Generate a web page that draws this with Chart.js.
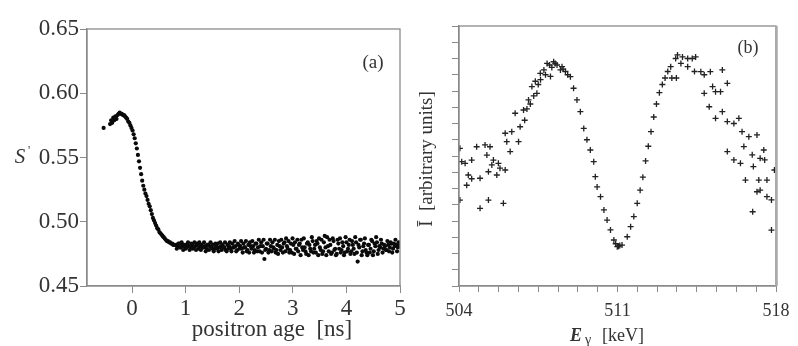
<!DOCTYPE html>
<html>
<head>
<meta charset="utf-8">
<script src="https://cdn.jsdelivr.net/npm/chart.js@4.4.1/dist/chart.umd.min.js"></script>
<style>
  body { margin: 0; background: #fff; }
  #wrap { position: relative; width: 798px; height: 346px; }
  canvas { position: absolute; top: 0; }
  #ageChart { left: 0; }
  #energyChart { left: 410px; }
</style>
</head>
<body>
<div id="wrap">
  <canvas id="ageChart" width="410" height="346"></canvas>
  <canvas id="energyChart" width="388" height="346"></canvas>
</div>
<script>
// (a) S parameter vs positron age
const ageTicks = [0, 1, 2, 3, 4, 5];
const sTicks = [0.45, 0.50, 0.55, 0.60, 0.65];

const curveAge = [-0.53, -0.41, -0.39, -0.37, -0.35, -0.33, -0.31, -0.29, -0.27, -0.25,
  -0.23, -0.21, -0.19, -0.17, -0.15, -0.13, -0.11, -0.09, -0.07, -0.05,
  -0.03, -0.01, 0.01, 0.03, 0.05, 0.07, 0.09, 0.11, 0.13, 0.15,
  0.17, 0.19, 0.21, 0.23, 0.25, 0.27, 0.29, 0.31, 0.33, 0.35,
  0.37, 0.39, 0.41, 0.43, 0.45, 0.47, 0.49, 0.51, 0.53, 0.55,
  0.57, 0.59, 0.61, 0.63, 0.65, 0.67, 0.69, 0.71, 0.73, 0.75,
  0.77, 0.79];
const curveS = [0.573, 0.576, 0.579, 0.577, 0.581, 0.579, 0.582, 0.580, 0.583, 0.584,
  0.585, 0.584, 0.584, 0.583, 0.583, 0.582, 0.581, 0.580, 0.578, 0.577,
  0.575, 0.573, 0.571, 0.568, 0.565, 0.561, 0.557, 0.552, 0.547, 0.542,
  0.537, 0.532, 0.528, 0.525, 0.522, 0.520, 0.517, 0.514, 0.512, 0.509,
  0.506, 0.503, 0.501, 0.499, 0.497, 0.495, 0.494, 0.492, 0.491, 0.490,
  0.489, 0.488, 0.487, 0.486, 0.485, 0.485, 0.484, 0.484, 0.483, 0.483,
  0.482, 0.482];

const plateauAge = [0.82, 0.85, 0.88, 0.91, 0.94, 0.97, 1.00, 1.03, 1.06, 1.09,
  1.12, 1.15, 1.18, 1.21, 1.24, 1.27, 1.30, 1.33, 1.36, 1.39,
  1.42, 1.45, 1.48, 1.51, 1.54, 1.57, 1.60, 1.63, 1.66, 1.69,
  1.72, 1.75, 1.78, 1.81, 1.84, 1.87, 1.90, 1.93, 1.96, 1.99,
  2.02, 2.05, 2.08, 2.11, 2.14, 2.17, 2.20, 2.23, 2.26, 2.29,
  2.32, 2.35, 2.38, 2.41, 2.44, 2.47, 2.50, 2.53, 2.56, 2.59,
  2.62, 2.65, 2.68, 2.71, 2.74, 2.77, 2.80, 2.83, 2.86, 2.89,
  2.92, 2.95, 2.98, 3.01, 3.04, 3.07, 3.10, 3.13, 3.16, 3.19,
  3.22, 3.25, 3.28, 3.31, 3.34, 3.37, 3.40, 3.43, 3.46, 3.49,
  3.52, 3.55, 3.58, 3.61, 3.64, 3.67, 3.70, 3.73, 3.76, 3.79,
  3.82, 3.85, 3.88, 3.91, 3.94, 3.97, 4.00, 4.03, 4.06, 4.09,
  4.12, 4.15, 4.18, 4.21, 4.24, 4.27, 4.30, 4.33, 4.36, 4.39,
  4.42, 4.45, 4.48, 4.51, 4.54, 4.57, 4.60, 4.63, 4.66, 4.69,
  4.72, 4.75, 4.78, 4.81, 4.84, 4.87, 4.90, 4.93, 4.96, 4.99];
const plateauS = [0.482, 0.481, 0.483, 0.480, 0.482, 0.481, 0.479, 0.482, 0.481, 0.480,
  0.482, 0.480, 0.481, 0.483, 0.479, 0.481, 0.482, 0.480, 0.481, 0.479,
  0.482, 0.481, 0.480, 0.482, 0.479, 0.481, 0.483, 0.480, 0.481, 0.482,
  0.480, 0.478, 0.482, 0.481, 0.479, 0.483, 0.480, 0.481, 0.478, 0.482,
  0.481, 0.479, 0.483, 0.480, 0.477, 0.482, 0.484, 0.479, 0.481, 0.478,
  0.483, 0.480, 0.477, 0.484, 0.481, 0.471, 0.479, 0.483, 0.478, 0.481,
  0.484, 0.479, 0.476, 0.482, 0.485, 0.478, 0.480, 0.483, 0.477, 0.481,
  0.485, 0.478, 0.476, 0.482, 0.484, 0.479, 0.477, 0.483, 0.486, 0.478,
  0.480, 0.475, 0.484, 0.482, 0.477, 0.485, 0.479, 0.476, 0.483, 0.487,
  0.478, 0.475, 0.484, 0.480, 0.488, 0.477, 0.482, 0.476, 0.485, 0.479,
  0.475, 0.483, 0.487, 0.478, 0.481, 0.476, 0.484, 0.479, 0.486, 0.477,
  0.482, 0.475, 0.484, 0.469, 0.480, 0.486, 0.477, 0.483, 0.478, 0.474,
  0.482, 0.479, 0.485, 0.477, 0.481, 0.484, 0.478, 0.480, 0.483, 0.479,
  0.481, 0.478, 0.482, 0.480, 0.483, 0.479, 0.481, 0.482, 0.480, 0.483];

// second, interleaved channel set of the plateau
const plateauAge2 = [0.835, 0.865, 0.895, 0.925, 0.955, 0.985, 1.015, 1.045, 1.075, 1.105,
  1.135, 1.165, 1.195, 1.225, 1.255, 1.285, 1.315, 1.345, 1.375, 1.405,
  1.435, 1.465, 1.495, 1.525, 1.555, 1.585, 1.615, 1.645, 1.675, 1.705,
  1.735, 1.765, 1.795, 1.825, 1.855, 1.885, 1.915, 1.945, 1.975, 2.005,
  2.035, 2.065, 2.095, 2.125, 2.155, 2.185, 2.215, 2.245, 2.275, 2.305,
  2.335, 2.365, 2.395, 2.425, 2.455, 2.485, 2.515, 2.545, 2.575, 2.605,
  2.635, 2.665, 2.695, 2.725, 2.755, 2.785, 2.815, 2.845, 2.875, 2.905,
  2.935, 2.965, 2.995, 3.025, 3.055, 3.085, 3.115, 3.145, 3.175, 3.205,
  3.235, 3.265, 3.295, 3.325, 3.355, 3.385, 3.415, 3.445, 3.475, 3.505,
  3.535, 3.565, 3.595, 3.625, 3.655, 3.685, 3.715, 3.745, 3.775, 3.805,
  3.835, 3.865, 3.895, 3.925, 3.955, 3.985, 4.015, 4.045, 4.075, 4.105,
  4.135, 4.165, 4.195, 4.225, 4.255, 4.285, 4.315, 4.345, 4.375, 4.405,
  4.435, 4.465, 4.495, 4.525, 4.555, 4.585, 4.615, 4.645, 4.675, 4.705,
  4.735, 4.765, 4.795, 4.825, 4.855, 4.885, 4.915, 4.945, 4.975, 4.995];
const plateauS2 = [0.479, 0.483, 0.480, 0.484, 0.478, 0.482, 0.480, 0.484, 0.478, 0.483,
  0.479, 0.484, 0.478, 0.482, 0.484, 0.478, 0.480, 0.484, 0.477, 0.482,
  0.478, 0.484, 0.479, 0.477, 0.483, 0.479, 0.477, 0.484, 0.478, 0.480,
  0.484, 0.477, 0.479, 0.484, 0.477, 0.480, 0.485, 0.477, 0.483, 0.479,
  0.485, 0.476, 0.480, 0.485, 0.478, 0.476, 0.481, 0.485, 0.476, 0.483,
  0.477, 0.486, 0.481, 0.476, 0.486, 0.478, 0.483, 0.476, 0.486, 0.477,
  0.480, 0.486, 0.478, 0.475, 0.481, 0.486, 0.476, 0.484, 0.487, 0.479,
  0.476, 0.483, 0.487, 0.475, 0.479, 0.486, 0.482, 0.474, 0.480, 0.487,
  0.477, 0.483, 0.474, 0.479, 0.488, 0.476, 0.482, 0.485, 0.474, 0.480,
  0.486, 0.477, 0.489, 0.474, 0.481, 0.486, 0.475, 0.487, 0.478, 0.474,
  0.486, 0.479, 0.476, 0.484, 0.474, 0.488, 0.477, 0.482, 0.475, 0.485,
  0.479, 0.488, 0.476, 0.482, 0.486, 0.474, 0.481, 0.487, 0.476, 0.482,
  0.476, 0.486, 0.474, 0.483, 0.488, 0.475, 0.481, 0.486, 0.476, 0.482,
  0.478, 0.485, 0.477, 0.484, 0.476, 0.483, 0.486, 0.477, 0.484, 0.481];

// (b) intensity vs gamma energy
const energyLabels = [504, 511, 518];
const energyKeV = [504.04, 504.12, 504.27, 504.56, 504.04, 504.41, 504.56, 504.34, 504.78, 505.15,
  505.37, 505.23, 505.52, 505.45, 505.74, 505.81, 504.93, 505.30, 505.67, 506.04,
  504.93, 505.30, 505.96, 506.26, 506.11, 506.04, 506.33, 506.63, 506.70, 506.48,
  506.85, 506.90, 507.00, 507.07, 507.15, 507.22, 507.30, 507.37, 507.44, 507.50,
  507.59, 507.60, 507.75, 507.82, 507.89, 508.00, 508.04, 508.10, 508.18, 508.25,
  508.33, 508.48, 508.55, 508.60, 508.70, 508.80, 508.92, 509.06, 509.21, 509.36,
  509.51, 509.65, 509.80, 509.95, 510.02, 510.10, 510.25, 510.40, 510.54, 510.69,
  510.84, 510.92, 510.99, 511.05, 511.10, 511.20, 511.43, 511.58, 511.72, 511.87,
  512.00, 512.12, 512.24, 512.36, 512.48, 512.60, 512.72, 512.85, 512.98, 513.10,
  513.22, 513.35, 513.40, 513.57, 513.60, 513.65, 513.80, 513.87, 514.10, 514.10,
  514.30, 514.40, 514.45, 514.68, 514.83, 514.83, 515.05, 515.10, 515.20, 515.33,
  515.33, 515.55, 515.63, 515.63, 515.85, 515.85, 515.85, 516.14, 516.14, 516.36,
  516.43, 516.50, 516.58, 516.65, 516.80, 516.95, 516.97, 517.00, 517.16, 517.16,
  517.24, 517.30, 517.30, 517.46, 517.50, 517.60, 517.60, 517.80, 517.80, 517.93];
const intensity = [8.47, 7.65, 7.55, 7.75, 5.29, 6.83, 6.60, 6.20, 8.57, 8.68,
  8.57, 8.06, 7.75, 7.45, 7.55, 7.25, 6.63, 7.03, 6.83, 7.14,
  4.78, 5.29, 5.09, 8.27, 8.88, 9.40, 9.50, 8.88, 9.80, 10.63,
  10.83, 10.20, 10.90, 11.45, 11.20, 12.27, 11.70, 12.60, 11.86, 12.40,
  13.09, 12.70, 13.30, 13.00, 13.70, 13.60, 12.90, 13.45, 13.80, 13.70,
  13.60, 13.30, 13.50, 13.35, 13.20, 13.00, 12.88, 12.17, 11.45, 10.73,
  9.70, 9.00, 8.37, 7.65, 6.73, 6.10, 5.50, 4.68, 4.06, 3.45,
  2.83, 2.60, 2.42, 2.45, 2.50, 2.52, 3.03, 3.65, 4.27, 5.09,
  5.90, 6.70, 7.70, 8.60, 9.50, 10.40, 11.20, 11.90, 12.40, 12.80,
  13.20, 13.50, 12.80, 14.00, 12.80, 14.22, 13.70, 14.10, 14.00, 13.50,
  14.00, 13.20, 14.10, 13.19, 13.00, 11.86, 11.03, 13.19, 12.27, 11.96,
  10.32, 11.96, 13.30, 10.73, 12.47, 10.12, 8.27, 10.00, 7.76, 10.32,
  7.55, 9.50, 8.58, 6.52, 9.19, 8.07, 4.57, 7.35, 9.30, 5.80,
  6.52, 7.86, 5.90, 8.37, 7.76, 6.52, 5.50, 5.30, 3.44, 7.14];

Chart.defaults.font.family = "'Liberation Serif', 'Times New Roman', serif";
Chart.defaults.color = "#333";

const frameGray = "#8a8a8a";

const leftDecor = {
  id: "leftDecor",
  afterDraw(chart) {
    const ctx = chart.ctx;
    const a = chart.chartArea;
    ctx.save();
    ctx.strokeStyle = frameGray;
    ctx.lineWidth = 1.3;
    ctx.strokeRect(a.left, a.top, a.right - a.left, a.bottom - a.top);
    ctx.fillStyle = "#333";
    ctx.textAlign = "center";
    ctx.textBaseline = "middle";
    ctx.font = "19px 'Liberation Serif'";
    ctx.fillText("(a)", 373, 63);
    ctx.font = "23px 'Liberation Serif'";
    ctx.fillText("positron age  [ns]", 272, 330);
    ctx.font = "italic 21px 'Liberation Serif'";
    ctx.fillText("S", 20, 157);
    ctx.font = "12px 'Liberation Serif'";
    ctx.fillText("'", 29, 151);
    ctx.restore();
  },
};

const rightDecor = {
  id: "rightDecor",
  afterDraw(chart) {
    const ctx = chart.ctx;
    const a = chart.chartArea;
    ctx.save();
    ctx.strokeStyle = frameGray;
    ctx.lineWidth = 1.3;
    ctx.strokeRect(a.left, a.top, a.right - a.left, a.bottom - a.top);
    ctx.lineWidth = 2.5;
    ctx.strokeStyle = "#aaa";
    ctx.beginPath();
    ctx.moveTo(a.right + 0.5, a.top);
    ctx.lineTo(a.right + 0.5, a.bottom);
    ctx.stroke();
    ctx.fillStyle = "#333";
    ctx.textBaseline = "middle";
    ctx.textAlign = "center";
    ctx.font = "18px 'Liberation Serif'";
    ctx.fillText("(b)", 338, 48);
    // y title, rotated
    ctx.save();
    ctx.translate(17, 159);
    ctx.rotate(-Math.PI / 2);
    ctx.font = "19px 'Liberation Serif'";
    ctx.fillText("\u012A  [arbitrary units]", 0, 0);
    ctx.restore();
    // x title E_gamma [keV]
    ctx.textAlign = "left";
    ctx.font = "italic bold 18px 'Liberation Serif'";
    ctx.fillText("E", 160, 336);
    ctx.font = "14px 'Liberation Serif'";
    ctx.fillText("\u03B3", 175, 340);
    ctx.font = "18px 'Liberation Serif'";
    ctx.fillText("[keV]", 192, 336);
    ctx.restore();
  },
};

const ageData = curveAge.map((a, i) => ({ x: a, y: curveS[i] }))
  .concat(plateauAge.map((a, i) => ({ x: a, y: plateauS[i] })))
  .concat(plateauAge2.map((a, i) => ({ x: a, y: plateauS2[i] })));

new Chart(document.getElementById("ageChart"), {
  type: "scatter",
  data: {
    datasets: [
      {
        data: ageData,
        pointRadius: 2.1,
        pointBorderWidth: 0,
        backgroundColor: "#0a0a0a",
        borderColor: "#0a0a0a",
      },
    ],
  },
  options: {
    responsive: false,
    animation: false,
    devicePixelRatio: 1,
    layout: { padding: { top: 29, right: 10, left: 0, bottom: 0 } },
    plugins: { legend: { display: false }, tooltip: { enabled: false } },
    scales: {
      x: {
        type: "linear",
        min: -0.84,
        max: 5,
        afterBuildTicks: (s) => { s.ticks = ageTicks.map((v) => ({ value: v })); },
        afterFit: (s) => { s.height = 60; },
        grid: { drawOnChartArea: false, tickLength: 7, color: frameGray },
        border: { color: frameGray, width: 1.3 },
        ticks: { font: { size: 23 }, padding: 2, maxRotation: 0 },
      },
      y: {
        min: 0.45,
        max: 0.65,
        afterBuildTicks: (s) => { s.ticks = sTicks.map((v) => ({ value: v })); },
        afterFit: (s) => { s.width = 87; },
        grid: { drawOnChartArea: false, tickLength: 7, color: frameGray },
        border: { color: frameGray, width: 1.3 },
        ticks: { font: { size: 23 }, padding: 1, callback: (v) => v.toFixed(2) },
      },
    },
  },
  plugins: [leftDecor],
});

new Chart(document.getElementById("energyChart"), {
  type: "scatter",
  data: {
    datasets: [
      {
        data: energyKeV.map((e, i) => ({ x: e, y: intensity[i] })),
        pointStyle: "cross",
        pointRadius: 3,
        pointBorderWidth: 1.3,
        borderColor: "#222",
        backgroundColor: "#222",
      },
    ],
  },
  options: {
    responsive: false,
    animation: false,
    devicePixelRatio: 1,
    layout: { padding: { top: 26, right: 22, left: 0, bottom: 0 } },
    plugins: { legend: { display: false }, tooltip: { enabled: false } },
    scales: {
      x: {
        type: "linear",
        min: 504,
        max: 518,
        afterFit: (s) => { s.height = 60; },
        grid: { drawOnChartArea: false, tickLength: 6, color: frameGray },
        border: { color: frameGray, width: 1.3 },
        ticks: {
          stepSize: 0.875,
          autoSkip: false,
          maxRotation: 0,
          font: { size: 18 },
          padding: 8,
          callback: (v) => (energyLabels.includes(v) ? String(v) : ""),
        },
      },
      y: {
        min: 0,
        max: 16,
        afterFit: (s) => { s.width = 49; },
        grid: { drawOnChartArea: false, tickLength: 7, color: frameGray },
        border: { color: frameGray, width: 1.3 },
        ticks: { stepSize: 1, autoSkip: false, callback: () => "" },
      },
    },
  },
  plugins: [rightDecor],
});
</script>
</body>
</html>
